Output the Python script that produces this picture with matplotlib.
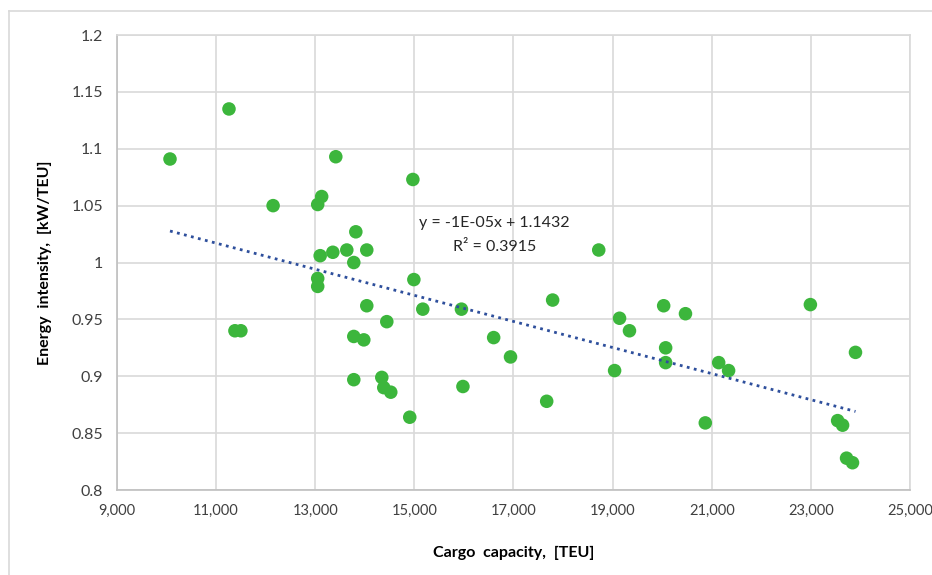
import matplotlib.pyplot as plt
from matplotlib.lines import Line2D
from matplotlib.ticker import FuncFormatter, MultipleLocator
import numpy as np

plt.rcParams['font.family'] = ['Lato', 'DejaVu Sans']

# cargo capacity [TEU] and energy intensity [kW/TEU]
capacity = [10070, 11260, 11380, 11500, 12150, 13050, 13130, 13100, 13050, 13050,
            13415, 13355, 13637, 13819, 13778, 14040, 14040, 14444, 13778, 13980,
            13778, 14343, 14383, 14524, 14907, 14990, 14970, 15170, 15950, 16600,
            16940, 15980, 17670, 17790, 18720, 19040, 19140, 19340, 20030, 20070,
            20070, 20470, 21140, 21340, 20870, 22990, 23900, 23540, 23640, 23720,
            23840]
intensity = [1.091, 1.135, 0.940, 0.940, 1.050, 1.051, 1.058, 1.006, 0.986, 0.979,
             1.093, 1.009, 1.011, 1.027, 1.000, 1.011, 0.962, 0.948, 0.935, 0.932,
             0.897, 0.899, 0.890, 0.886, 0.864, 0.985, 1.073, 0.959, 0.959, 0.934,
             0.917, 0.891, 0.878, 0.967, 1.011, 0.905, 0.951, 0.940, 0.962, 0.925,
             0.912, 0.955, 0.912, 0.905, 0.859, 0.963, 0.921, 0.861, 0.857, 0.828,
             0.824]
x_ticks = [9000, 11000, 13000, 15000, 17000, 19000, 21000, 23000, 25000]

# Excel trendline as labelled on the chart
trend_slope = -1.147e-05
trend_intercept = 1.1432
eq_text = 'y = -1E-05x + 1.1432'
r2_text = 'R² = 0.3915'

fig = plt.figure(figsize=(9.32, 5.75), dpi=100)
ax = fig.add_axes([0.1255, 0.1478, 0.8509, 0.7913])

ax.grid(True, color='#d9d9d9', linewidth=1.2, zorder=0)
ax.set_axisbelow(True)

ax.scatter(capacity, intensity, s=95, color='#3cb63c', edgecolors='none', zorder=3)

xs = np.array([min(capacity), max(capacity)])
ax.plot(xs, trend_slope * xs + trend_intercept, linestyle=(0, (1, 1.6)),
        color='#2e4f9c', linewidth=2, zorder=4)

ax.text(16620, 1.0346, eq_text, ha='center', va='center', fontsize=11.5, color='#262626')
ax.text(16620, 1.0135, r2_text, ha='center', va='center', fontsize=11.5, color='#262626')

ax.set_xlim(9000, 25000)
ax.set_ylim(0.8, 1.2)
ax.set_xticks(x_ticks)
ax.yaxis.set_major_locator(MultipleLocator(0.05))
ax.xaxis.set_major_formatter(FuncFormatter(lambda v, p: f'{v:,.0f}'))
ax.yaxis.set_major_formatter(FuncFormatter(lambda v, p: f'{v:.2f}'.rstrip('0').rstrip('.')))
ax.tick_params(length=0, labelsize=11.5, labelcolor='#404040', pad=10)
ax.tick_params(axis='x', labelsize=10.5)

for s in ax.spines.values():
    s.set_color('#d9d9d9')
    s.set_linewidth(1.2)
ax.spines['left'].set_color('#bfbfbf')
ax.spines['bottom'].set_color('#bfbfbf')

ax.set_xlabel('Cargo  capacity,  [TEU]', fontsize=11.5, fontweight='bold', labelpad=20)
ax.set_ylabel('Energy  intensity,  [kW/TEU]', fontsize=11.5, fontweight='bold', labelpad=14)

# chart-area frame, only the top and left edges show in the picture
fig.lines.append(Line2D([0.0097, 0.0097], [0.0, 0.981], transform=fig.transFigure,
                        color='#d9d9d9', linewidth=1.2))
fig.lines.append(Line2D([0.0097, 1.0], [0.981, 0.981], transform=fig.transFigure,
                        color='#d9d9d9', linewidth=1.2))

fig.savefig('out.png', dpi=100)
